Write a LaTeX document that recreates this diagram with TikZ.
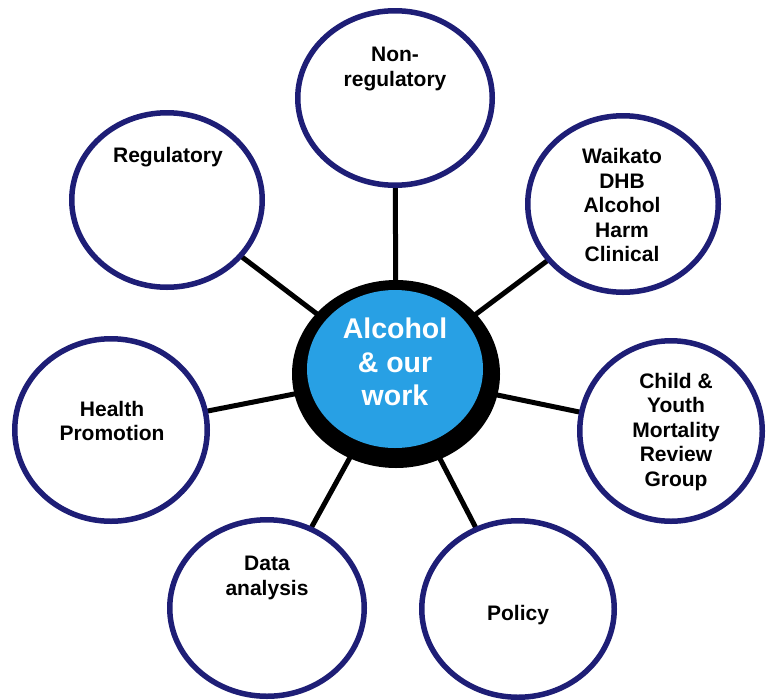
\documentclass[tikz,border=0pt]{standalone}
\usepackage{fontspec}
\setmainfont{Liberation Sans}
\usetikzlibrary{shapes.geometric,backgrounds}
\definecolor{ringnavy}{RGB}{30,30,118}
\definecolor{hubblue}{RGB}{40,160,228}
\begin{document}
\begin{tikzpicture}[x=1pt,y=-1pt,
  topic/.style={ellipse, draw=ringnavy, line width=5.5pt, fill=white, inner sep=0pt},
  labeltext/.style={font=\bfseries\fontsize{21}{24.5}\selectfont, align=center, text=black, inner sep=0pt},
  hubtext/.style={font=\bfseries\fontsize{28.5}{33.5}\selectfont, align=center, text=white, inner sep=0pt},
  spoke/.style={line width=5pt, black}]
\useasboundingbox (0,0) rectangle (767,699);

% central hub: black ring with a blue core
\node[ellipse, fill=black, inner sep=0pt, minimum width=208pt, minimum height=188pt] (hub) at (396,374) {};
\node[ellipse, fill=hubblue, inner sep=0pt, minimum width=176pt, minimum height=158pt] (hubcore) at (395,369) {};
\node[hubtext] (hublabel) at (395,362) {Alcohol\\\& our\\work};

% surrounding topics
\node[topic, minimum width=194.5pt, minimum height=174.5pt] (nonreg) at (395,98) {};
\node[topic, minimum width=190.5pt, minimum height=174.5pt] (reg) at (167,200) {};
\node[topic, minimum width=190.5pt, minimum height=176.5pt] (waikato) at (623,204) {};
\node[topic, minimum width=192.5pt, minimum height=182.5pt] (health) at (111,430) {};
\node[topic, minimum width=182.5pt, minimum height=180.5pt] (child) at (671,431) {};
\node[topic, minimum width=194.5pt, minimum height=176.5pt] (data) at (267,608) {};
\node[topic, minimum width=192.5pt, minimum height=176.5pt] (policy) at (518,609) {};

% topic labels
\node[labeltext] (t-nonreg) at (395,69) {Non-\\regulatory};
\node[labeltext] (t-reg) at (168,157) {Regulatory};
\node[labeltext] (t-waikato) at (622,205) {Waikato\\DHB\\Alcohol\\Harm\\Clinical};
\node[labeltext] (t-health) at (112,421) {Health\\Promotion};
\node[labeltext] (t-child) at (676,432) {Child \&\\Youth\\Mortality\\Review\\Group};
\node[labeltext] (t-data) at (267,578) {Data\\analysis};
\node[labeltext] (t-policy) at (518,615) {Policy};

% spokes from the hub to every topic
\begin{scope}[on background layer]
  \foreach \t in {nonreg,reg,waikato,health,child,data,policy}
    \draw[spoke] (hub.center) -- (\t.center);
\end{scope}
\end{tikzpicture}
\end{document}
